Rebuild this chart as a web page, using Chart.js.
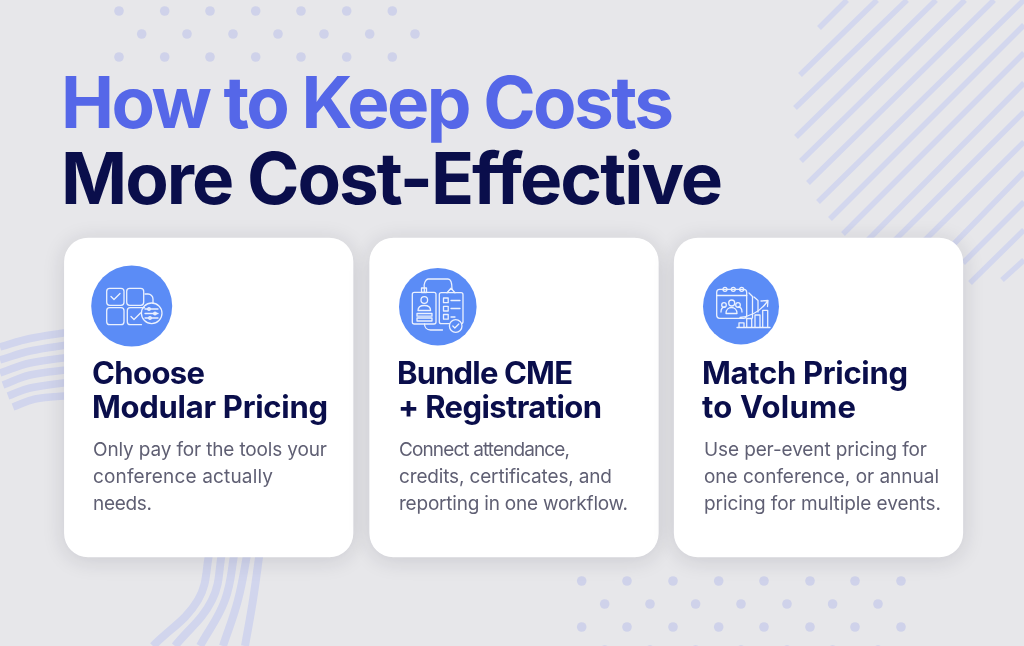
<!DOCTYPE html>
<html><head><meta charset="utf-8">
<script src="https://cdn.jsdelivr.net/npm/chart.js@4"></script>
<style>
html,body{margin:0;padding:0;background:#e7e7ea;width:1024px;height:646px;overflow:hidden}
#wrap{position:relative;width:1024px;height:646px}
canvas{position:absolute;left:0;top:0}
svg{position:absolute;left:0;top:0}
.t{position:absolute;white-space:nowrap;left:0;top:0}
</style></head><body>
<div id="wrap"><canvas id="c" width="1024" height="646"></canvas>
<svg width="1024" height="646" viewBox="0 0 1024 646" fill="none" stroke="#fff" stroke-width="1.3" stroke-linecap="round" stroke-linejoin="round" opacity=".88">
<!-- icon 1 -->
<rect x="106.7" y="288.3" width="17.3" height="17" rx="3"/><rect x="126.7" y="288.3" width="17" height="17" rx="3"/>
<rect x="106.7" y="307.7" width="17.3" height="17" rx="3"/><path d="M141.500 324.700H130.300a3 3 0 0 1-3-3V310.700a3 3 0 0 1 3-3H144.500"/>
<path d="M111 296.500l3 3l6-6M131 316.500l3 3l6.500-6.500"/><path d="M145 294h3a5 5 0 0 1 5 5v4"/>
<circle cx="151.700" cy="313.300" r="10.300"/><path d="M145 309h13M145 313.500h13M145 318h13"/><circle cx="149" cy="309" r="1.300"/><circle cx="155" cy="313.500" r="1.300"/><circle cx="150" cy="318" r="1.300"/>
<!-- icon 2 -->
<rect x="412.300" y="292.300" width="23.700" height="31.700" rx="2"/><rect x="439.300" y="292.700" width="23.700" height="31" rx="2"/>
<path d="M424.300 292v-4M424.300 288c-1-3 1-9 4-9H448c3 0 4 4 4 10"/><rect x="421.500" y="288" width="5" height="4.500"/><path d="M447 292.700l4-4.500l4 4.500"/>
<circle cx="424.300" cy="300" r="3.300"/><path d="M418 310.500c0-4 3-5 6.300-5s6.300 1 6.300 5z"/><rect x="417" y="313.500" width="15" height="2.700"/><rect x="417" y="318" width="15" height="3"/>
<rect x="443.500" y="298" width="4.700" height="4.700"/><rect x="443.500" y="306.300" width="4.700" height="4.700"/><rect x="443.500" y="314.500" width="4.700" height="4.700"/>
<path d="M451 300.500h9M451 308.500h9M451 317h4M424.500 324c0 3 2 6 6 6h12"/><circle cx="455.700" cy="326" r="6.300" fill="#5b8cf6"/><path d="M452.800 326l2 2l4-4"/>
<!-- icon 3 -->
<rect x="716.700" y="289.300" width="30" height="29" rx="3"/><path d="M716.700 295.500h30M749 293l3.500 3.500V318M746.700 293M754 297l4 3.500V312"/>
<circle cx="725" cy="289.300" r="2"/><circle cx="733.300" cy="289.300" r="2"/><circle cx="741.700" cy="289.300" r="2"/>
<circle cx="731.700" cy="303" r="3"/><circle cx="724" cy="305" r="2.300"/><circle cx="738" cy="305" r="2.300"/><path d="M726 313.500c0-8 11-8 11 0zM721 312c0-5 3-5 4-5M742 312c0-5-3-5-4-5"/>
<path d="M739 327.300v-4.500h5v4.500M746.700 327.300V318.500h5v8.800M755 327.300V315h5v12.300M762.700 327.300v-17h5v17M737 327.500h33"/>
<path d="M740 317.500c10-1 20-6 27-15.500M761 301l7-.500l-.500 6"/>
</svg>
</div>
<script>
// background dot rows
const dotXA=[119,164.7,210,255.7,301,346.7,392.3];
const dotXB=[141.7,187,233,278,324,369.7,415];
const dotYA=[11,57];
const dotYB=[34];
const dot2XA=[581.7,627,673,718.7,764,810,855,901];
const dot2XB=[604.7,650,695.6,741,787,832.6,878];
const dot2YA=[581,627];
const dot2YB=[604,650];
// stripes
const stripeX1=[819,800,795,796,801,808,818,830,843,860,890,922,950,963,970,1002];
const stripeY1=[28,75,108,137,161,183,202,219,234,248,245,243,248,263,283,280];
const stripeX2=[847,877,907,936,965,994,1024,1024,1024,1024,1024,1024,1024,1024,1024,1024];
const stripeY2=[0,0,0,0,0,0,0,25,53,83,112,142,172,202,230,260];
// arcs left of first card
const arcLX=[[0,30,70],[0,30,70],[0,30,70],[3,30,70],[8,30,70],[13,35,70]];
const arcLY=[[347,338.500,332],[360,351,344.500],[373,363,357],[385,375,369.500],[396,388,382],[407,399,395.500]];
// arcs under first card
const arcBX=[[153,198,210],[175,212,222.500],[200,225,235],[223,238,248],[245,253,260]];
const arcBY=[[646,600,550],[646,600,550],[646,600,550],[646,600,550],[646,600,550]];
// cards
const cardX=[208.700,514,818.500];
const cardTop=[238,238,238];
const cardBottom=[557,557,557];
// icon circles
const iconX=[131.700,437.800,741];
const iconY=[306,306.700,306.500];
const iconR=[40.500,38.800,38];
// text lines
const titleLines=["How to Keep Costs","More Cost-Effective"];
const titleColors=["#5567e8","#0a0e4b"];
const titleX=[61,61],titleBase=[128,204],titleW=[613,662];
const headLines=["Choose","Modular Pricing","Bundle CME","+ Registration","Match Pricing","to Volume"];
const headX=[92,92,397,398,702,702],headBase=[384,418,384,418,384,418],headW=[113,236,176,204,206,154];
const bodyLines=["Only pay for the tools your","conference actually","needs.","Connect attendance,","credits, certificates, and","reporting in one workflow.","Use per-event pricing for","one conference, or annual","pricing for multiple events."];
const bodyX=[93,93,93,399,399,399,704,704,704],bodyBase=[456,483,510,456,483,510,456,483,510],bodyW=[234,180,59,171,213,229,223,235,237];

const pts=(xs,ys)=>ys.flatMap(y=>xs.map(x=>({x,y})));
const dots=[...pts(dotXA,dotYA),...pts(dotXB,dotYB),...pts(dot2XA,dot2YA),...pts(dot2XB,dot2YB)];
const stripes=stripeX1.flatMap((x,i)=>[{x,y:stripeY1[i]},{x:stripeX2[i],y:stripeY2[i]},{x:null,y:null}]);
const arc=(xs,ys,w)=>xs.map((a,i)=>({type:'line',order:5,data:a.map((x,j)=>({x,y:ys[i][j]})),borderColor:'#d1d5ed',borderWidth:w,tension:.4,pointRadius:0,borderCapStyle:'butt',fill:false}));
const shadow={id:'cardShadow',
 beforeDatasetDraw(ch,a){if(ch.data.datasets[a.index].type==='bar'){const c=ch.ctx;c.shadowColor='rgba(30,30,50,.14)';c.shadowBlur=22;c.shadowOffsetY=3}},
 afterDatasetDraw(ch,a){if(ch.data.datasets[a.index].type==='bar'){const c=ch.ctx;c.shadowColor='transparent';c.shadowBlur=0;c.shadowOffsetY=0}}};
new Chart(document.getElementById('c'),{type:'scatter',plugins:[shadow],data:{datasets:[
 {type:'scatter',order:5,data:dots,pointRadius:4.800,pointBackgroundColor:'#cfd2ea',pointBorderWidth:0},
 {type:'line',order:5,data:stripes,borderColor:'#d3d7ee',borderWidth:5.500,spanGaps:false,pointRadius:0,tension:0,borderCapStyle:'butt',fill:false},
 ...arc(arcLX,arcLY,7.500),...arc(arcBX,arcBY,8),
 {type:'bar',order:3,data:cardX.map((x,i)=>({x,y:[cardTop[i],cardBottom[i]]})),backgroundColor:'#fff',barThickness:288.600,borderRadius:24,borderSkipped:false,borderWidth:0,grouped:false},
 {type:'scatter',order:1,data:iconX.map((x,i)=>({x,y:iconY[i]})),pointRadius:iconR,pointBackgroundColor:'#5b8cf6',pointBorderWidth:0}
]},options:{responsive:false,animation:false,events:[],devicePixelRatio:1,layout:{padding:0,autoPadding:false},
 plugins:{legend:{display:false},tooltip:{enabled:false}},
 scales:{x:{type:'linear',min:0,max:1024,display:false,offset:false},y:{type:'linear',min:0,max:646,reverse:true,display:false}}}});

const wrap=document.getElementById('wrap');
function put(s,x,base,w,font,color){
 const el=document.createElement('div');el.className='t';el.textContent=s;el.style.font=font;el.style.color=color;wrap.appendChild(el);
 const st=document.createElement('span');st.style.cssText='display:inline-block;width:0;height:0';el.appendChild(st);
 const b=st.getBoundingClientRect().bottom-el.getBoundingClientRect().top;st.remove();
 const m=el.getBoundingClientRect().width;
 el.style.letterSpacing=((w-m)/(s.length-1))+'px';el.style.left=x+'px';el.style.top=(base-b)+'px';
}
function drawText(){
titleLines.forEach((s,i)=>put(s,titleX[i],titleBase[i],titleW[i],'700 71px Inter',titleColors[i]));
headLines.forEach((s,i)=>put(s,headX[i],headBase[i],headW[i],'700 31px Inter','#0a0e4b'));
bodyLines.forEach((s,i)=>put(s,bodyX[i],bodyBase[i],bodyW[i],'400 19px Inter','#5f5f73'));
}
document.fonts.load('700 70px Inter').then(()=>document.fonts.load('400 18px Inter')).then(drawText,drawText);
</script>
</body></html>
